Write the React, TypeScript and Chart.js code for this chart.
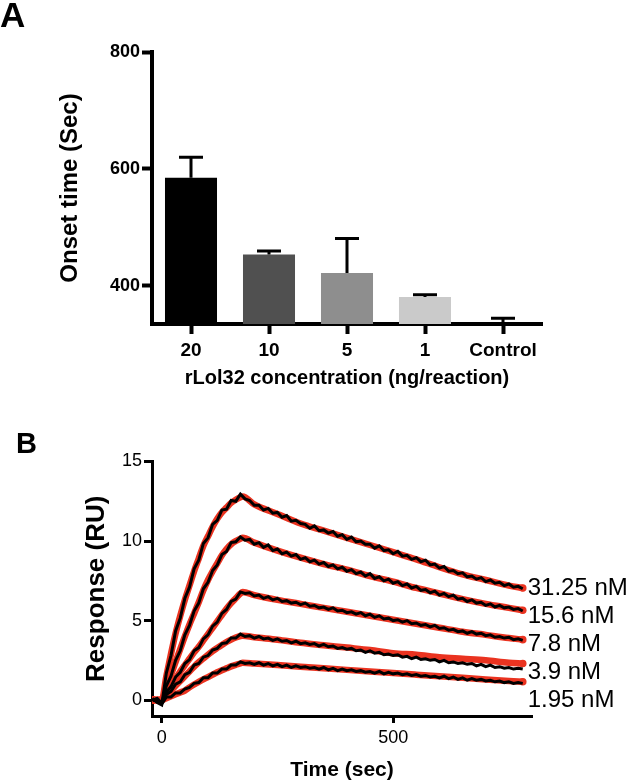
import React, { useEffect, useRef } from 'react';
import { Chart, registerables } from 'chart.js';

Chart.register(...registerables);

const FONT = '"Liberation Sans", Arial, Helvetica, sans-serif';
const RED = '#ea3320';

// ---------- Panel A data ----------
const concCategories = ['20', '10', '5', '1', 'Control'];
const onsetMeans = [585, 454, 422, 381, 336];
const onsetErrTop = [620, 460, 481, 385, 345];
const barColors = ['#000000', '#505050', '#8e8e8e', '#cacaca', 'rgba(0,0,0,0)'];
const onsetTicks = [400, 600, 800];

// ---------- Panel B data ----------
const timeTicks = [0, 500];
const responseTicks = [0, 5, 10, 15];
const concLabels = ['31.25 nM', '15.6 nM', '7.8 nM', '3.9 nM', '1.95 nM'];

const fitTimes = [-20, 0, 10, 20, 30, 40, 50, 60, 70, 80, 90, 100, 110, 120, 130, 140, 150, 160, 170, 175,
  200, 250, 300, 350, 400, 450, 500, 550, 600, 650, 700, 750, 780];
const fit31 = [0, 0, 1.5, 2.9, 4.2, 5.3, 6.3, 7.2, 8.1, 8.9, 9.7, 10.3, 10.9, 11.4, 11.8, 12.1, 12.4, 12.6, 12.75, 12.8,
  12.3, 11.7, 11.1, 10.65, 10.2, 9.75, 9.3, 8.85, 8.35, 7.9, 7.55, 7.2, 7.05];
const fit15 = [0, 0, 0.8, 1.6, 2.4, 3.2, 4.0, 4.75, 5.45, 6.15, 6.9, 7.55, 8.1, 8.6, 9.1, 9.5, 9.8, 10.0, 10.15, 10.2,
  9.9, 9.4, 8.95, 8.55, 8.2, 7.8, 7.45, 7.05, 6.7, 6.35, 6.05, 5.8, 5.65];
const fit7 = [0, 0, 0.45, 0.9, 1.35, 1.8, 2.2, 2.6, 3.0, 3.35, 3.75, 4.15, 4.55, 4.95, 5.35, 5.75, 6.1, 6.4, 6.7, 6.8,
  6.6, 6.3, 6.05, 5.8, 5.55, 5.3, 5.05, 4.8, 4.55, 4.3, 4.1, 3.9, 3.8];
const fit3 = [0, 0, 0.3, 0.6, 0.9, 1.2, 1.5, 1.8, 2.1, 2.38, 2.62, 2.85, 3.08, 3.28, 3.47, 3.65, 3.8, 3.93, 4.03, 4.05,
  3.95, 3.8, 3.6, 3.45, 3.3, 3.15, 2.95, 2.85, 2.7, 2.6, 2.5, 2.35, 2.3];
const fit1 = [0, 0, 0.12, 0.24, 0.36, 0.48, 0.6, 0.8, 0.98, 1.15, 1.3, 1.45, 1.6, 1.75, 1.88, 2.0, 2.12, 2.22, 2.3, 2.35,
  2.3, 2.2, 2.1, 2.0, 1.9, 1.8, 1.7, 1.6, 1.5, 1.4, 1.3, 1.2, 1.15];

const dataTimes = [-20, -10, 0, 10, 20, 30, 40, 50, 60, 70,
  80, 90, 100, 110, 120, 130, 140, 150, 160, 170,
  180, 190, 200, 210, 220, 230, 240, 250, 260, 270,
  280, 290, 300, 310, 320, 330, 340, 350, 360, 370,
  380, 390, 400, 410, 420, 430, 440, 450, 460, 470,
  480, 490, 500, 510, 520, 530, 540, 550, 560, 570,
  580, 590, 600, 610, 620, 630, 640, 650, 660, 670,
  680, 690, 700, 710, 720, 730, 740, 750, 760, 770,
  780];
const data31 = [0.1, -0.15, -0.3, 1.7, 2.8, 4.35, 5.15, 6.4, 7.1, 8.25,
  8.8, 9.85, 10.2, 11.05, 11.3, 11.95, 12.0, 12.55, 12.5, 12.95,
  12.65, 12.55, 12.25, 12.25, 11.95, 12.05, 11.75, 11.8, 11.5, 11.6,
  11.25, 11.3, 11.1, 11.05, 10.8, 10.95, 10.65, 10.7, 10.5, 10.6,
  10.3, 10.4, 10.1, 10.25, 9.95, 10.0, 9.8, 9.8, 9.55, 9.7,
  9.4, 9.45, 9.2, 9.35, 9.05, 9.1, 8.85, 8.95, 8.7, 8.8,
  8.5, 8.55, 8.3, 8.4, 8.1, 8.15, 7.95, 8.0, 7.75, 7.8,
  7.6, 7.7, 7.45, 7.55, 7.35, 7.4, 7.2, 7.3, 7.1, 7.15,
  7.0];
const data15 = [-0.05, 0.1, -0.2, 0.9, 1.5, 2.5, 3.1, 4.1, 4.7, 5.6,
  6.1, 7.0, 7.4, 8.15, 8.5, 9.15, 9.35, 9.9, 9.95, 10.25,
  10.05, 10.1, 9.8, 9.9, 9.6, 9.75, 9.4, 9.5, 9.2, 9.3,
  9.05, 9.15, 8.85, 8.95, 8.7, 8.8, 8.55, 8.65, 8.4, 8.5,
  8.25, 8.35, 8.1, 8.2, 7.95, 8.05, 7.8, 7.95, 7.65, 7.75,
  7.5, 7.6, 7.35, 7.45, 7.2, 7.3, 7.05, 7.15, 6.9, 6.95,
  6.75, 6.85, 6.6, 6.7, 6.5, 6.6, 6.35, 6.4, 6.2, 6.3,
  6.1, 6.15, 5.95, 6.05, 5.85, 5.95, 5.8, 5.85, 5.7, 5.75,
  5.6];
const data7 = [0.05, -0.1, -0.15, 0.5, 0.85, 1.45, 1.75, 2.3, 2.55, 3.1,
  3.3, 3.85, 4.1, 4.65, 4.9, 5.45, 5.7, 6.2, 6.35, 6.8,
  6.7, 6.75, 6.55, 6.6, 6.4, 6.5, 6.3, 6.4, 6.2, 6.25,
  6.1, 6.15, 6.0, 6.1, 5.9, 5.95, 5.8, 5.85, 5.7, 5.8,
  5.6, 5.65, 5.5, 5.55, 5.4, 5.5, 5.3, 5.4, 5.2, 5.3,
  5.1, 5.15, 5.0, 5.05, 4.9, 5.0, 4.8, 4.85, 4.7, 4.75,
  4.6, 4.7, 4.5, 4.55, 4.4, 4.45, 4.3, 4.35, 4.2, 4.3,
  4.15, 4.2, 4.05, 4.1, 3.95, 4.0, 3.9, 3.95, 3.8, 3.85,
  3.75];
const data3 = [0.0, 0.1, -0.2, 0.35, 0.55, 1.0, 1.15, 1.6, 1.75, 2.2,
  2.3, 2.7, 2.8, 3.15, 3.25, 3.55, 3.6, 3.9, 3.9, 4.15,
  4.0, 4.05, 3.9, 4.0, 3.85, 3.9, 3.75, 3.85, 3.7, 3.75,
  3.6, 3.7, 3.55, 3.6, 3.5, 3.55, 3.4, 3.5, 3.35, 3.4,
  3.25, 3.3, 3.2, 3.25, 3.1, 3.15, 3.0, 3.1, 2.95, 3.0,
  2.85, 2.9, 2.8, 2.85, 2.7, 2.75, 2.6, 2.7, 2.55, 2.6,
  2.5, 2.55, 2.4, 2.5, 2.35, 2.4, 2.3, 2.35, 2.25, 2.3,
  2.15, 2.25, 2.1, 2.2, 2.05, 2.1, 2.0, 2.05, 1.95, 2.0,
  1.95];
const data1 = [0.05, -0.05, -0.25, 0.2, 0.2, 0.45, 0.45, 0.7, 0.8, 1.05,
  1.1, 1.4, 1.4, 1.7, 1.7, 1.95, 1.95, 2.2, 2.2, 2.4,
  2.3, 2.35, 2.25, 2.35, 2.2, 2.3, 2.15, 2.25, 2.1, 2.2,
  2.05, 2.15, 2.05, 2.1, 2.0, 2.05, 1.95, 2.05, 1.9, 2.0,
  1.85, 1.95, 1.85, 1.9, 1.8, 1.85, 1.75, 1.8, 1.7, 1.8,
  1.65, 1.75, 1.65, 1.7, 1.6, 1.65, 1.55, 1.6, 1.5, 1.55,
  1.45, 1.5, 1.4, 1.5, 1.35, 1.45, 1.3, 1.4, 1.25, 1.35,
  1.25, 1.3, 1.2, 1.25, 1.15, 1.2, 1.1, 1.15, 1.05, 1.1,
  1.05];

const fitSeries = [fit31, fit15, fit7, fit3, fit1];
const dataSeries = [data31, data15, data7, data3, data1];

const errorBarPlugin = {
  id: 'errorBars',
  afterDatasetsDraw(chart: any) {
    const ctx = chart.ctx;
    const ys = chart.scales.y;
    const meta = chart.getDatasetMeta(0);
    ctx.save();
    ctx.strokeStyle = '#000';
    ctx.lineWidth = 3;
    ctx.lineCap = 'butt';
    meta.data.forEach((bar: any, i: number) => {
      const x = bar.x;
      const yMean = ys.getPixelForValue(onsetMeans[i]);
      const yTop = ys.getPixelForValue(onsetErrTop[i]);
      ctx.beginPath();
      ctx.moveTo(x, yMean);
      ctx.lineTo(x, yTop);
      ctx.moveTo(x - 12, yTop);
      ctx.lineTo(x + 12, yTop);
      ctx.stroke();
    });
    ctx.restore();
  },
};

const concLabelPlugin = {
  id: 'concLabels',
  afterDatasetsDraw(chart: any) {
    const ctx = chart.ctx;
    const xs = chart.scales.x;
    const ys = chart.scales.y;
    const last = fitTimes.length - 1;
    const x = xs.getPixelForValue(fitTimes[last]) + 5;
    const y0 = ys.getPixelForValue(fitSeries[0][last]);
    ctx.save();
    ctx.font = `24px ${FONT}`;
    ctx.fillStyle = '#000';
    ctx.textAlign = 'left';
    ctx.textBaseline = 'middle';
    concLabels.forEach((lab, i) => ctx.fillText(lab, x, y0 + i * 28));
    ctx.restore();
  },
};

function PanelA() {
  const ref = useRef<HTMLCanvasElement | null>(null);
  useEffect(() => {
    if (!ref.current) return;
    const chart = new Chart(ref.current, {
      type: 'bar',
      data: {
        labels: concCategories,
        datasets: [{
          data: onsetMeans,
          backgroundColor: barColors,
          borderWidth: 0,
          barPercentage: 0.667,
          categoryPercentage: 1,
        }],
      },
      options: {
        animation: false,
        responsive: false,
        maintainAspectRatio: false,
        layout: { padding: { left: 0, top: 52, right: 87, bottom: 0 } },
        plugins: { legend: { display: false }, tooltip: { enabled: false } },
        scales: {
          x: {
            afterFit: (s: any) => { s.height = 76; },
            grid: { display: true, offset: false, drawOnChartArea: false, drawTicks: true, tickLength: 10, tickWidth: 4, tickColor: '#000' },
            border: { display: true, color: '#000', width: 4 },
            ticks: { color: '#000', font: { family: FONT, size: 19, weight: 'bold' }, padding: 5, maxRotation: 0 },
            title: { display: true, text: 'rLol32 concentration (ng/reaction)', color: '#000', font: { family: FONT, size: 20, weight: 'bold', lineHeight: 1.2 }, padding: { top: 0, bottom: 10 } },
          },
          y: {
            min: 335,
            max: 800,
            afterBuildTicks: (s: any) => { s.ticks = onsetTicks.map((v) => ({ value: v })); },
            afterFit: (s: any) => { s.width = 152; },
            grid: { display: true, drawOnChartArea: false, drawTicks: true, tickLength: 10, tickWidth: 4, tickColor: '#000' },
            border: { display: true, color: '#000', width: 4 },
            ticks: { color: '#000', font: { family: FONT, size: 18, weight: 'bold' }, padding: 2 },
            title: { display: true, text: 'Onset time (Sec)', color: '#000', font: { family: FONT, size: 24, weight: 'bold', lineHeight: 1.2 }, padding: { top: 55.6, bottom: 0 } },
          },
        },
      } as any,
      plugins: [errorBarPlugin],
    });
    return () => chart.destroy();
  }, []);
  return <canvas ref={ref} width={629} height={400} style={{ position: 'absolute', left: 0, top: 0, display: 'block' }} />;
}

function PanelB() {
  const ref = useRef<HTMLCanvasElement | null>(null);
  useEffect(() => {
    if (!ref.current) return;
    const lastIdx = fitTimes.length - 1;
    const datasets: any[] = [];
    dataSeries.forEach((vals) => {
      datasets.push({
        data: dataTimes.map((t, i) => ({ x: t, y: vals[i] })),
        borderColor: '#000',
        borderWidth: 3,
        borderJoinStyle: 'miter',
        pointRadius: 0,
        tension: 0,
        order: 1,
      });
    });
    fitSeries.forEach((vals) => {
      datasets.push({
        data: fitTimes.map((t, i) => ({ x: t, y: vals[i] })),
        borderColor: RED,
        borderWidth: 6.5,
        borderCapStyle: 'round',
        borderJoinStyle: 'round',
        cubicInterpolationMode: 'monotone',
        pointRadius: (c: any) => (c.dataIndex === lastIdx || c.dataIndex === 0 ? 3.8 : 0),
        pointBackgroundColor: RED,
        pointBorderWidth: 0,
        order: 2,
      });
    });
    const chart = new Chart(ref.current, {
      type: 'line',
      data: { datasets },
      options: {
        animation: false,
        responsive: false,
        maintainAspectRatio: false,
        layout: { padding: { left: 0, top: 61.5, right: 97, bottom: 0 } },
        plugins: { legend: { display: false }, tooltip: { enabled: false } },
        scales: {
          x: {
            type: 'linear',
            min: -21,
            max: 800,
            afterBuildTicks: (s: any) => { s.ticks = timeTicks.map((v) => ({ value: v })); },
            afterFit: (s: any) => { s.height = 65; },
            grid: { display: true, drawOnChartArea: false, drawTicks: true, tickLength: 7, tickWidth: 3, tickColor: '#000' },
            border: { display: true, color: '#000', width: 3 },
            ticks: { color: '#000', font: { family: FONT, size: 18 }, padding: 4, maxRotation: 0 },
            title: { display: true, text: 'Time (sec)', color: '#000', font: { family: FONT, size: 21, weight: 'bold', lineHeight: 1 }, padding: { top: 0, bottom: 0.5 } },
          },
          y: {
            type: 'linear',
            min: -1,
            max: 15,
            afterBuildTicks: (s: any) => { s.ticks = responseTicks.map((v) => ({ value: v })); },
            afterFit: (s: any) => { s.width = 152; },
            grid: { display: true, drawOnChartArea: false, drawTicks: true, tickLength: 8, tickWidth: 3, tickColor: '#000' },
            border: { display: true, color: '#000', width: 3 },
            ticks: { color: '#000', font: { family: FONT, size: 18 }, padding: 2 },
            title: { display: true, text: 'Response (RU)', color: '#000', font: { family: FONT, size: 26, weight: 'bold', lineHeight: 1.2 }, padding: { top: 81.4, bottom: 0 } },
          },
        },
      } as any,
      plugins: [concLabelPlugin],
    });
    return () => chart.destroy();
  }, []);
  return <canvas ref={ref} width={629} height={381} style={{ position: 'absolute', left: 0, top: 400, display: 'block' }} />;
}

export default function App() {
  const labelStyle: React.CSSProperties = {
    position: 'absolute',
    fontFamily: FONT,
    fontWeight: 'bold',
    lineHeight: 1,
    color: '#000',
    margin: 0,
  };
  return (
    <div style={{ position: 'absolute', left: 0, top: 0, width: 629, height: 781, background: '#fff', overflow: 'hidden' }}>
      <PanelA />
      <PanelB />
      <div style={{ ...labelStyle, left: 0, top: -3.5, fontSize: 35 }}>A</div>
      <div style={{ ...labelStyle, left: 16, top: 428.5, fontSize: 29 }}>B</div>
    </div>
  );
}
